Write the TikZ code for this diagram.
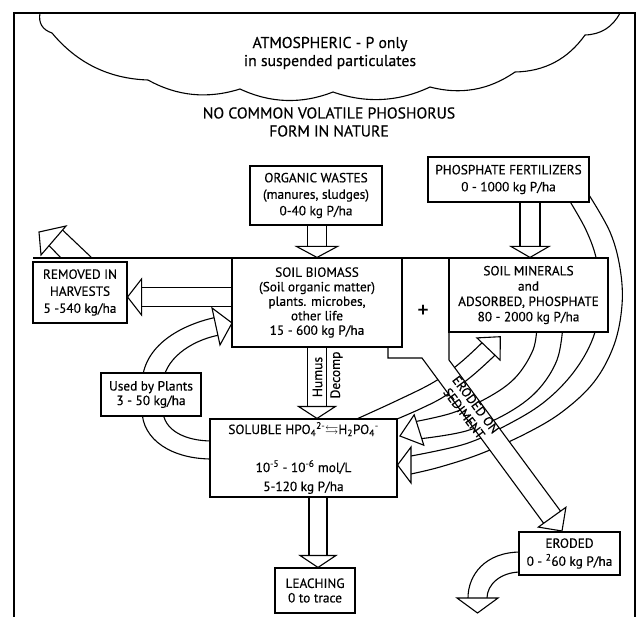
\documentclass[tikz,border=0pt]{standalone}
\usepackage{fontspec}
\usepackage{amssymb}
\setmainfont{PT Sans}[FakeBold=0.4]
\usetikzlibrary{calc}
\newcommand\myfs[2]{\fontsize{#1}{#2}\selectfont}
\begin{document}
\begin{tikzpicture}[x=1pt,y=-1pt,
  ln/.style={line width=1.1pt, line join=miter, line cap=butt},
  boxn/.style={draw, line width=1.1pt, fill=white, align=center, inner sep=0pt},
  head/.style={draw, line width=1.1pt, fill=white, line join=miter},
  lbl/.style={inner sep=0pt, align=center}]
\useasboundingbox (0,0) rectangle (639,617);
\fill[white] (0,0) rectangle (639,617);
% frame
\draw[ln] (14,617) -- (14,13) -- (635,13) -- (635,617);
% cloud
\draw[ln] (40,13) .. controls (38.3,23.1) and (42.3,29.7) .. (52,33)
 .. controls (77,63.1) and (109,78.7) .. (148,80)
 .. controls (177,96.2) and (207.6,99.2) .. (240,89)
 .. controls (270.6,103.3) and (301.6,104.3) .. (333,92)
 .. controls (366,103.6) and (398.4,101.9) .. (430,87)
 .. controls (460.6,95.1) and (489,90.1) .. (515,72)
 .. controls (544.5,71.5) and (567.9,59.1) .. (585,35)
 .. controls (601,34.5) and (612.6,27.1) .. (620,13);
\node[lbl, font=\myfs{15.7}{18}] (atm) at (330,53) {ATMOSPHERIC - P only\\in suspended particulates};
\node[lbl, font=\myfs{15.7}{18}] (novol) at (329,122) {NO COMMON VOLATILE PHOSHORUS\\FORM IN NATURE};
% soil surface line
\draw[ln] (33,258) -- (607,258);
% fertilizer band (outer pair)
\draw[ln] plot[smooth, tension=0.6] coordinates {(589,195) (610,232) (620,268) (622,305) (614,345) (594,382) (562,412) (525,434) (480,454) (440,467) (411,474)};
\draw[ln] plot[smooth, tension=0.6] coordinates {(566,195) (586,230) (597,262) (600,300) (593,338) (573,373) (543,403) (505,426) (465,444) (411,456)};
% minerals -> soluble band
\draw[ln] plot[smooth, tension=0.6] coordinates {(537,325) (533,350) (515,378) (487,398) (452,413) (416.3,421.4)};
\draw[ln] plot[smooth, tension=0.6] coordinates {(563,325) (557,360) (537,391) (506,414) (466,431) (421.7,438.6)};
% soluble -> minerals band
\draw[ln] plot[smooth, tension=0.6] coordinates {(350,422) (396,401) (434,382) (460,363) (482,342.8)};
\draw[ln] plot[smooth, tension=0.6] coordinates {(390,422) (420,409) (445,396) (472,376) (495,355.2)};
% heads of the bands
\draw[head] (414.2,414.8) -- (399.9,436) -- (423.8,445.2) -- cycle;
\draw[head] (411,447) -- (397.5,465) -- (411,483) -- cycle;
\draw[head] (476.9,337.9) -- (500.3,336.7) -- (500.1,360.1) -- cycle;
% used by plants band
\draw[ln] (212,459) .. controls (172,459) and (142,440) .. (142,410) -- (142,385)
  .. controls (142,345) and (182,325) .. (214.1,317.7);
\draw[ln] (212,441) .. controls (185,441) and (163,430) .. (163,410) -- (163,385)
  .. controls (163,360) and (190,341) .. (217.9,335.3);
\draw[head] (212,308) -- (232,323) -- (220,345) -- cycle;
% eroded downward band
\draw[ln] (521,552) .. controls (485,552) and (468,575) .. (468,598);
\draw[ln] (521,572) .. controls (500,572) and (487,585) .. (487,598);
\draw[head] (457,598) -- (477.5,613) -- (498,598) -- cycle;
% eroded on sediment arrow
\fill[white] (388,345) -- (388,358) -- (422,358) -- (543.6,523.2) -- (560.6,511.2) -- (449,360) -- (449,330) -- cycle;
\draw[ln] (388,347) -- (388,358) -- (422,358) -- (543.6,523.2);
\draw[ln] (560.6,511.2) -- (449,360) -- (449,332);
\draw[head] (538.3,527.1) -- (562,531) -- (565.9,507.3) -- cycle;
\node[lbl, rotate=-53, font=\myfs{13}{14.5}] (eos) at (470,409) {ERODED ON\\SEDIMENT};
% harvest diagonal arrow
\draw[ln] (61,258) -- (49,245.5) (92,258) -- (62,229.5);
\draw[head] (66,226) -- (39,232) -- (41,255) -- cycle;
% boxes
\node[boxn, minimum width=132pt, minimum height=59pt, font=\myfs{13.3}{16.5}] (org) at (316,195.5) {ORGANIC WASTES\\(manures, sludges)\\0-40 kg P/ha};
\node[boxn, minimum width=161pt, minimum height=45pt, font=\myfs{13.3}{17}] (fert) at (508.5,179.5) {PHOSPHATE FERTILIZERS\\0 - 1000 kg P/ha};
\node[boxn, minimum width=170pt, minimum height=89pt, font=\myfs{13.3}{14.5}] (bio) at (317,302.5) {SOIL BIOMASS\\(Soil organic matter)\\plants. microbes,\\other life\\15 - 600 kg P/ha};
\node[boxn, minimum width=159pt, minimum height=74pt, font=\myfs{13.3}{15.3}] (min) at (528.5,295) {SOIL MINERALS\\and\\ADSORBED, PHOSPHATE\\80 - 2000 kg P/ha};
\node[boxn, minimum width=94pt, minimum height=61pt, font=\myfs{13.3}{17}] (rem) at (80,292.5) {REMOVED IN\\HARVESTS\\5 -540 kg/ha};
\node[boxn, minimum width=100pt, minimum height=43pt, font=\myfs{13.3}{14.5}] (used) at (151,394.5) {Used by Plants\\3 - 50 kg/ha};
\node[boxn, minimum width=187pt, minimum height=78pt, font=\myfs{13.3}{19}] (sol) at (303.5,458) {SOLUBLE HPO\textsubscript{4}\textsuperscript{2-}$\leftrightarrows$H\textsubscript{2}PO\textsubscript{4}\textsuperscript{-}\\[19pt]10\textsuperscript{-5} - 10\textsuperscript{-6} mol/L\\5-120 kg P/ha};
\node[boxn, minimum width=80pt, minimum height=45pt, font=\myfs{13.3}{14.5}] (leach) at (315,590.5) {LEACHING\\0 to trace};
\node[boxn, minimum width=101pt, minimum height=43pt, font=\myfs{13.3}{18}] (erod) at (569.5,553.5) {ERODED\\0 - \textsuperscript{2}60 kg P/ha};
\node[lbl, font=\myfs{22}{22}] (plus) at (423,311) {+};
% organic wastes -> biomass
\coordinate (oS) at (org.south -| bio.north);
\draw[ln] ($(oS)+(-9.5,0)$) -- ($(bio.north)+(-9.5,-11)$) ($(oS)+(9.5,0)$) -- ($(bio.north)+(9.5,-11)$);
\draw[head] ($(bio.north)+(-20.5,-11)$) -- (bio.north) -- ($(bio.north)+(20.5,-11)$) -- cycle;
% fertilizers -> minerals
\coordinate (fT) at ($(min.north)+(1.5,0)$);
\coordinate (fS) at (fert.south -| fT);
\draw[ln] ($(fS)+(-10,0)$) -- ($(fT)+(-10,-11)$) ($(fS)+(10,0)$) -- ($(fT)+(10,-11)$);
\draw[head] ($(fT)+(-19,-11)$) -- (fT) -- ($(fT)+(19,-11)$) -- cycle;
% biomass -> soluble (humus decomp)
\coordinate (hT) at (sol.north -| bio.south);
\draw[ln] ($(bio.south)+(-9.5,0)$) -- ($(hT)+(-9.5,-12)$) ($(bio.south)+(9.5,0)$) -- ($(hT)+(9.5,-12)$);
\draw[head] ($(hT)+(-18.5,-12)$) -- (hT) -- ($(hT)+(18.5,-12)$) -- cycle;
\node[lbl, rotate=90, font=\myfs{13.5}{14}] (humus) at (317.5,377) {Humus};
\node[lbl, rotate=90, font=\myfs{13.5}{14}] (decomp) at (336.5,375) {Decomp};
% soluble -> leaching
\coordinate (lT) at ($(leach.north)+(3,0)$);
\coordinate (lS) at (sol.south -| lT);
\draw[ln] ($(lS)+(-9,0)$) -- ($(lT)+(-9,-12)$) ($(lS)+(9,0)$) -- ($(lT)+(9,-12)$);
\draw[head] ($(lT)+(-18,-12)$) -- (lT) -- ($(lT)+(18,-12)$) -- cycle;
% biomass -> removed in harvests
\coordinate (hvT) at ($(rem.east)+(0,4.5)$);
\coordinate (hvS) at (bio.west |- hvT);
\draw[ln] ($(hvS)+(0,-9.5)$) -- ($(hvT)+(14,-9.5)$) ($(hvS)+(0,9.5)$) -- ($(hvT)+(14,9.5)$);
\draw[head] ($(hvT)+(14,-18)$) -- (hvT) -- ($(hvT)+(14,18)$) -- cycle;
\end{tikzpicture}
\end{document}
